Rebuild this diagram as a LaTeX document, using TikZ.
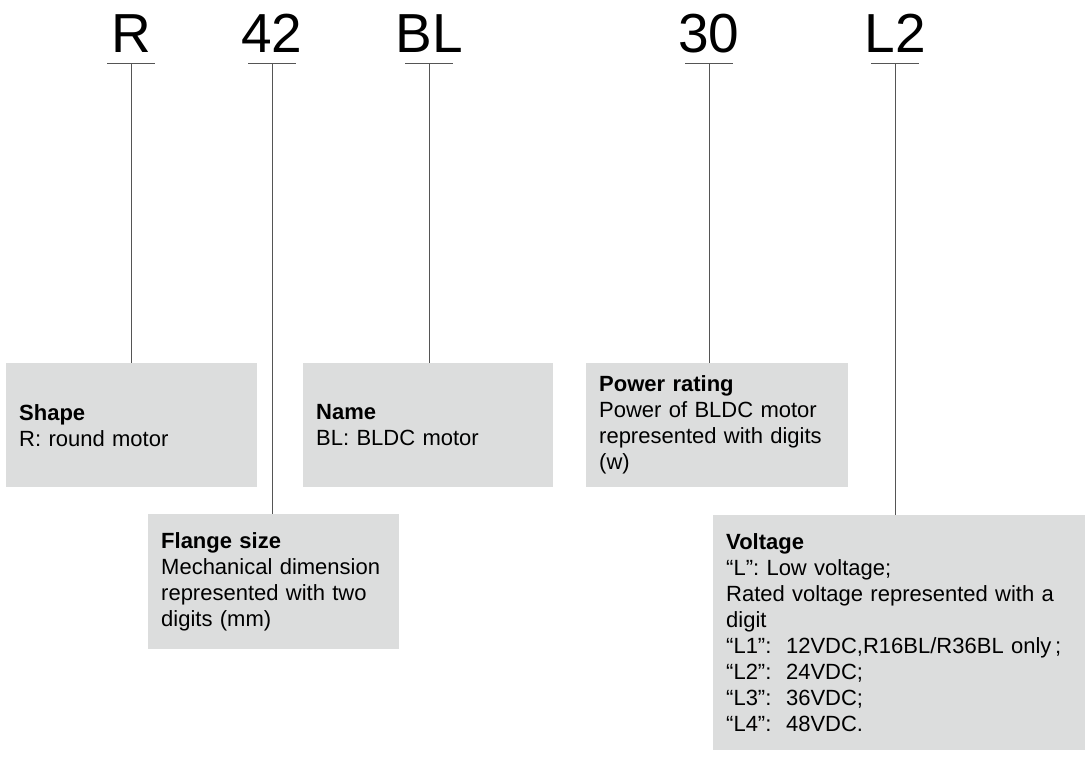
\documentclass[tikz,border=0pt]{standalone}
\usepackage{fontspec}
\setmainfont{Liberation Sans}
\definecolor{boxgray}{RGB}{220,221,221}
\definecolor{linegray}{RGB}{85,85,85}
\begin{document}
\begin{tikzpicture}[x=1pt,y=-1pt,
    code/.style={anchor=base,inner sep=0pt,font=\fontsize{55}{60}\selectfont},
    infobox/.style={anchor=north west,fill=boxgray,inner xsep=13pt,inner ysep=0pt,
        align=left,font=\fontsize{22}{26}\selectfont},
    lead/.style={draw=linegray,line width=0.9pt}]
    \useasboundingbox (0,0) rectangle (1090,763);
    % model code parts
    \node[code] (shp) at (131,52) {R};
    \node[code] (flg) at (272,52) {42};
    \node[code] (nam) at (429,52) {BL};
    \node[code] (pwr) at (709,52) {30};
    \node[code] (vlt) at (895,52) {L2};
    % explanation boxes
    \node[infobox,text width=225pt,minimum height=124pt] (shape) at (6,363)
        {\textbf{Shape}\\R: round motor};
    \node[infobox,text width=224pt,minimum height=124pt] (name) at (303,363)
        {\textbf{Name}\\BL: BLDC motor};
    \node[infobox,text width=236pt,minimum height=124pt] (power) at (586,363)
        {\textbf{Power rating}\\Power of BLDC motor\\represented with digits\\(w)};
    \node[infobox,text width=225pt,minimum height=135pt] (flange) at (148,514)
        {\textbf{Flange size}\\Mechanical dimension\\represented with two\\digits (mm)};
    \node[infobox,text width=346pt,minimum height=235pt] (voltage) at (713,515)
        {\textbf{Voltage}\\“L”: Low voltage;\\Rated voltage represented with a\\digit\\
         “L1”:\ \ 12VDC,R16BL/R36BL only\,;\\“L2”:\ \ 24VDC;\\“L3”:\ \ 36VDC;\\“L4”:\ \ 48VDC.};
    % underlines and leaders
    \foreach \c/\b in {shp/shape, flg/flange, nam/name, pwr/power, vlt/voltage} {
        \coordinate (\c-u) at ([yshift=-11pt]\c.base);
        \draw[lead] ([xshift=-24pt]\c-u) -- ([xshift=24pt]\c-u);
        \draw[lead] (\c-u) -- (\c-u |- \b.north);
    }
\end{tikzpicture}
\end{document}
